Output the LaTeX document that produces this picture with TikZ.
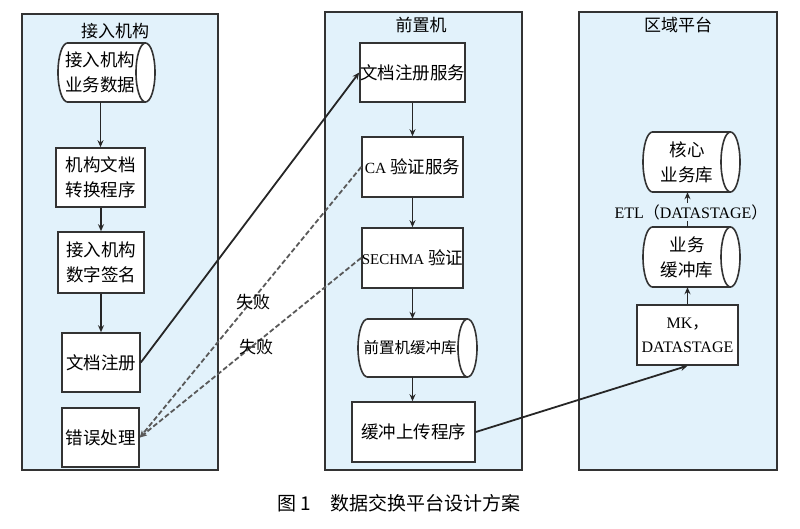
\documentclass[tikz,border=0pt]{standalone}
\usepackage{fontspec}
\setmainfont{Noto Sans CJK SC}
\newfontfamily\lat{Liberation Serif}
\usetikzlibrary{arrows.meta}
\definecolor{panelfill}{HTML}{E2F2FB}
\definecolor{edgecol}{HTML}{333333}
\newcommand\cylpath[5]{%
  \pgfmathsetmacro\cylry{(#4-#2)/2}%
  \draw[boxline,fill=white] (#1+#5,#2) -- (#3-#5,#2)
     arc[start angle=90,end angle=-90,x radius=#5pt,y radius=\cylry pt]
     -- (#1+#5,#4)
     arc[start angle=270,end angle=90,x radius=#5pt,y radius=\cylry pt] -- cycle;
  \draw[boxline] (#3-#5,#2) arc[start angle=90,end angle=270,x radius=#5pt,y radius=\cylry pt];
}
\tikzset{
  boxline/.style={draw=edgecol,line width=1.6pt},
  panel/.style={draw=edgecol,line width=2.2pt,fill=panelfill},
  box/.style={boxline,fill=white,inner sep=0pt,align=center,font=\fontsize{17.5}{25}\selectfont},
  cyltext/.style={inner sep=0pt,align=center,font=\fontsize{17.5}{25}\selectfont},
  ttl/.style={inner sep=1pt,font=\fontsize{17}{20}\selectfont},
  arr/.style={-{Stealth[length=7pt,width=6pt]},line width=1.8pt,draw=black!85},
  darr/.style={arr,dash pattern=on 5pt off 2.5pt,draw=black!65},
}
\begin{document}
\begin{tikzpicture}[x=1pt,y=-1pt]
\useasboundingbox (0,0) rectangle (800,528);
% panels
\draw[panel] (22,14) rectangle (218,470);
\draw[panel] (325,12) rectangle (522,470);
\draw[panel] (579,12) rectangle (777,470);
\node[ttl] (t1) at (115,31) {接入机构};
\node[ttl] (t2) at (421,25) {前置机};
\node[ttl] (t3) at (678,25) {区域平台};
% left column
\cylpath{58}{43}{155}{102}{9.5}
\node[cyltext,minimum width=84pt,minimum height=59pt] (ld) at (100,72.5) {接入机构\\业务数据};
\node[box,minimum width=89pt,minimum height=59pt] (lconv) at (100.5,177.5) {机构文档\\转换程序};
\node[box,minimum width=86pt,minimum height=61pt] (lsig) at (101,262.5) {接入机构\\数字签名};
\node[box,minimum width=78pt,minimum height=59pt] (lreg) at (101,362.5) {文档注册};
\node[box,minimum width=77pt,minimum height=59pt] (lerr) at (100.5,437.5) {错误处理};
\draw[arr] (lconv.north |- ld.south) -- (lconv.north);
\draw[arr] (lconv.south -| lsig.north) -- (lsig.north);
\draw[arr] (lsig.south -| lreg.north) -- (lreg.north);
% middle column
\node[box,minimum width=99pt,minimum height=59pt] (mreg) at (412.5,72.5) {文档注册服务};
\node[box,minimum width=101pt,minimum height=60pt] (mca) at (412.5,167) {{\lat\fontsize{15.5}{16}\selectfont CA} 验证服务};
\node[box,minimum width=99pt,minimum height=60pt] (msec) at (412.5,258) {{\lat\fontsize{15}{16}\selectfont SECHMA} 验证};
\cylpath{358}{319}{477}{377}{9.5}
\node[cyltext,minimum width=100pt,minimum height=58pt,font=\fontsize{15.5}{20}\selectfont] (mbuf) at (410,348) {前置机缓冲库};
\node[box,minimum width=123pt,minimum height=60pt] (mup) at (413.5,432) {缓冲上传程序};
\draw[arr] (mreg.south) -- (mca.north);
\draw[arr] (mca.south) -- (msec.north);
\draw[arr] (msec.south) -- (msec.south |- mbuf.north);
\draw[arr] (msec.south |- mbuf.south) -- (msec.south |- mup.north);
% right column
\cylpath{643}{132}{740}{192}{9.5}
\node[cyltext,minimum width=80pt,minimum height=60pt] (rcore) at (687,162) {核心\\业务库};
\cylpath{643}{227}{740}{287}{9.5}
\node[cyltext,minimum width=80pt,minimum height=60pt] (rbuf) at (687,257) {业务\\缓冲库};
\node[box,minimum width=101pt,minimum height=60pt,font=\lat\fontsize{16}{24}\selectfont] (rmk) at (687.5,335) {MK{\fontspec{Noto Sans CJK SC}，}\\DATASTAGE};
\draw[arr] (rmk.north) -- (rmk.north |- rbuf.south);
\draw[arr] (rmk.north |- rbuf.north) -- (rmk.north |- rcore.south);
\node[inner sep=1pt,fill=panelfill,font=\fontsize{16}{18}\selectfont] (etl) at (691,212) {{\lat ETL}（{\lat DATASTAGE}）};
% cross connectors
\draw[arr] (lreg.east) -- (mreg.west);
\draw[darr] (mca.west) -- (lerr.east);
\draw[darr] (msec.west) -- (lerr.east);
\draw[arr] (mup.east) -- (rmk.south);
\node[inner sep=0pt,font=\fontsize{17}{20}\selectfont] (f1) at (253,302) {失败};
\node[inner sep=0pt,font=\fontsize{17}{20}\selectfont] (f2) at (256,347) {失败};
% caption
\node[inner sep=0pt,font=\fontsize{19}{22}\selectfont] (cap) at (399,503) {图 1\hspace{20pt}数据交换平台设计方案};
\end{tikzpicture}
\end{document}
